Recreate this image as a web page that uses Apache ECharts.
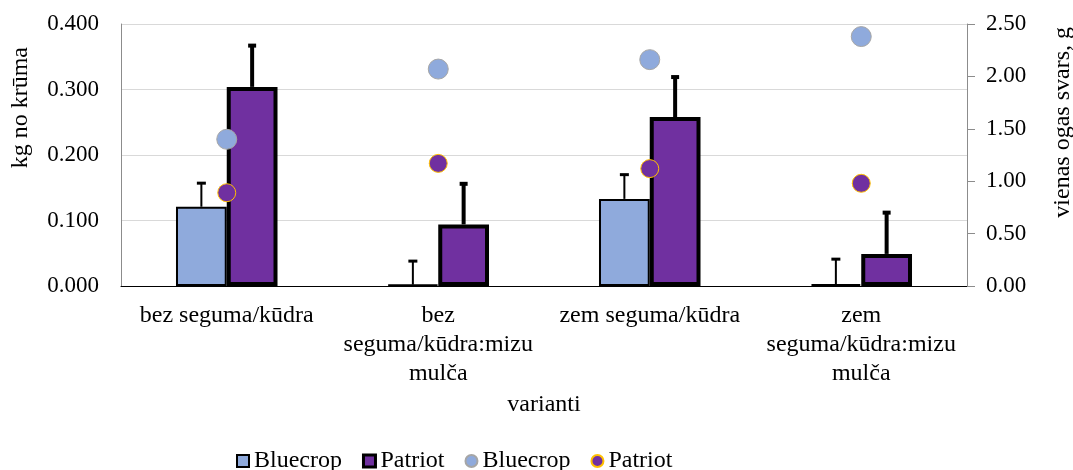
<!DOCTYPE html>
<html>
<head>
<meta charset="utf-8">
<script src="https://cdn.jsdelivr.net/npm/echarts@6/dist/echarts.min.js"></script>
<style>
html,body{margin:0;padding:0;background:#fff;}
#chart{width:1073px;height:470px;}
</style>
</head>
<body>
<div id="chart"></div>
<script>
var categories = ['bez seguma/kūdra', 'bez seguma/kūdra:mizu mulča', 'zem seguma/kūdra', 'zem seguma/kūdra:mizu mulča'];
var categoryLabels = ['bez seguma/kūdra', 'bez\nseguma/kūdra:mizu\nmulča', 'zem seguma/kūdra', 'zem\nseguma/kūdra:mizu\nmulča'];
// kg no krūma (bars, left axis)
var bluecropYield = [0.121, 0.002, 0.133, 0.003];
var bluecropYieldErr = [0.036, 0.036, 0.037, 0.038];
var patriotYield = [0.304, 0.094, 0.258, 0.049];
var patriotYieldErr = [0.063, 0.062, 0.061, 0.063];
// vienas ogas svars, g (points, right axis)
var bluecropBerry = [1.40, 2.07, 2.16, 2.38];
var patriotBerry = [0.89, 1.17, 1.12, 0.98];

var FONT = 'Liberation Serif';
var BAR_FRAC = 0.24;

var chart = echarts.init(document.getElementById('chart'));

function errData(vals, errs) {
    var out = [];
    for (var i = 0; i < vals.length; i++) {
        out.push([i, vals[i], vals[i] + errs[i]]);
    }
    return out;
}

function errSeries(name, vals, errs, side, lw, capW, capH) {
    return {
        name: name + ' err',
        type: 'custom',
        xAxisIndex: 0,
        yAxisIndex: 0,
        z: 3,
        silent: true,
        renderItem: function (params, api) {
            var band = api.size([1, 0])[0];
            var dx = side * band * BAR_FRAC / 2;
            var p0 = api.coord([api.value(0), api.value(1)]);
            var p1 = api.coord([api.value(0), api.value(2)]);
            var x = p0[0] + dx;
            return {
                type: 'group',
                children: [
                    {type: 'line', shape: {x1: x, y1: p0[1], x2: x, y2: p1[1]}, style: {stroke: '#000', lineWidth: lw}},
                    {type: 'line', shape: {x1: x - capW, y1: p1[1], x2: x + capW, y2: p1[1]}, style: {stroke: '#000', lineWidth: capH}}
                ]
            };
        },
        data: errData(vals, errs)
    };
}

var option = {
    animation: false,
    textStyle: {fontFamily: FONT, color: '#000'},
    grid: {left: 121, right: 106, top: 24, bottom: 184},
    legend: {
        top: 444,
        left: 231,
        itemWidth: 12,
        itemHeight: 12,
        itemGap: 20,
        textStyle: {fontFamily: FONT, fontSize: 24, color: '#000', padding: [0, 0, 0, 0]},
        data: [
            {name: 'Bluecrop', icon: 'rect', itemStyle: {borderWidth: 2}},
            {name: 'Patriot', icon: 'rect', itemStyle: {borderWidth: 3}},
            {name: 'Bluecrop ', icon: 'circle'},
            {name: 'Patriot ', icon: 'circle'}
        ],
        formatter: function (n) { return n.trim(); }
    },
    graphic: [
        {type: 'text', left: 9, top: 47, rotation: Math.PI / 2, style: {text: 'kg no krūma', font: '24px "Liberation Serif"', fill: '#000'}},
        {type: 'text', left: 1051, top: 27, rotation: Math.PI / 2, style: {text: 'vienas ogas svars, g', font: '24px "Liberation Serif"', fill: '#000'}}
    ],
    xAxis: {
        type: 'category',
        data: categories,
        name: 'varianti',
        nameLocation: 'middle',
        nameGap: 104,
        nameTextStyle: {fontFamily: FONT, fontSize: 24, color: '#000'},
        axisLine: {lineStyle: {color: '#000', width: 1}},
        axisTick: {show: false},
        axisLabel: {
            interval: 0,
            margin: 15,
            fontFamily: FONT,
            fontSize: 24,
            lineHeight: 29,
            color: '#000',
            formatter: function (v, i) { return categoryLabels[i]; }
        }
    },
    yAxis: [
        {
            type: 'value',
            min: 0,
            max: 0.4,
            interval: 0.1,
            axisLine: {show: true, lineStyle: {color: '#8c8c8c'}},
            axisTick: {show: false},
            splitLine: {lineStyle: {color: '#d9d9d9', width: 1}},
            axisLabel: {margin: 22, fontFamily: FONT, fontSize: 23, color: '#000', formatter: function (v) { return v.toFixed(3); }}
        },
        {
            type: 'value',
            min: 0,
            max: 2.5,
            interval: 0.5,
            position: 'right',
            axisLine: {show: true, lineStyle: {color: '#8c8c8c'}},
            axisTick: {show: true, length: 8, lineStyle: {color: '#8c8c8c'}},
            splitLine: {show: false},
            axisLabel: {margin: 19, fontFamily: FONT, fontSize: 23, color: '#000', formatter: function (v) { return v.toFixed(2); }}
        }
    ],
    series: [
        {
            name: 'Bluecrop',
            type: 'bar',
            barWidth: (BAR_FRAC * 100) + '%',
            barGap: '0%',
            z: 2,
            itemStyle: {color: '#8faadc', borderColor: '#000', borderWidth: 2},
            data: bluecropYield
        },
        {
            name: 'Patriot',
            type: 'bar',
            barWidth: (BAR_FRAC * 100) + '%',
            barGap: '0%',
            z: 2,
            itemStyle: {color: '#7030a0', borderColor: '#000', borderWidth: 4},
            data: patriotYield
        },
        errSeries('Bluecrop', bluecropYield, bluecropYieldErr, -1, 2, 4.5, 3),
        errSeries('Patriot', patriotYield, patriotYieldErr, 1, 4, 4, 4),
        {
            name: 'Bluecrop ',
            type: 'scatter',
            yAxisIndex: 1,
            symbolSize: 20,
            z: 5,
            itemStyle: {color: '#8faadc', borderColor: '#a6a6a6', borderWidth: 1, opacity: 1},
            data: bluecropBerry
        },
        {
            name: 'Patriot ',
            type: 'scatter',
            yAxisIndex: 1,
            symbolSize: 18,
            z: 5,
            itemStyle: {color: '#7030a0', borderColor: '#ffc000', borderWidth: 1, opacity: 1},
            data: patriotBerry
        }
    ]
};

chart.setOption(option);
</script>
</body>
</html>
